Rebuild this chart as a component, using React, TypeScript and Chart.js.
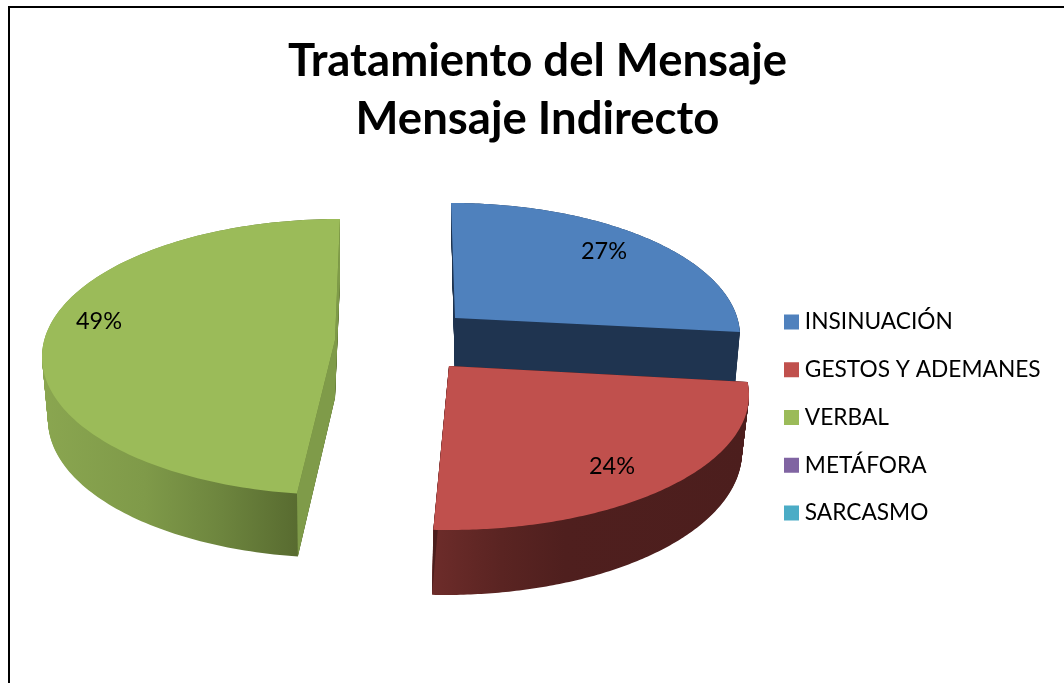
import React, { useEffect, useRef } from "react";
import { Chart, registerables } from "chart.js";

Chart.register(...registerables);

const titleLines = ["Tratamiento del Mensaje", "Mensaje Indirecto"];
const categories = ["INSINUACIÓN", "GESTOS Y ADEMANES", "VERBAL", "METÁFORA", "SARCASMO"];
const shares = [27, 24, 49, 0, 0];
const sliceColors = ["#4f81bd", "#c0504d", "#9bbb59", "#8064a2", "#4bacc6"];

const FONT = "Lato, Carlito, Calibri, sans-serif";

// Look of the tilted, exploded slices: each slice's top and bottom faces are a
// corner point plus an ellipse; the library's arc angles are projected onto them.
type Face = { cx: number; cy: number; ex: number; ey: number; a: number; b: number; s: number; e: number };
type View = { top: Face; bottom: Face; wall: [number, string][]; wallX: [number, number]; side: string; label: [number, number] };

const views: View[] = [
  {
    top: { cx: 455, cy: 318, ex: 451, ey: 336, a: 289, b: 133, s: 0, e: 88.3 },
    bottom: { cx: 455, cy: 376, ex: 452, ey: 392, a: 283, b: 133, s: 0, e: 88 },
    wall: [[0, "#1f3450"], [1, "#1f3450"]],
    wallX: [450, 740],
    side: "#1f3450",
    label: [604, 251],
  },
  {
    top: { cx: 449, cy: 366, ex: 449, ey: 395, a: 300, b: 135, s: 84.5, e: 183 },
    bottom: { cx: 447, cy: 425, ex: 445, ey: 452, a: 297, b: 143, s: 84.5, e: 182.5 },
    wall: [[0, "#6d2c2a"], [0.22, "#5a2422"], [0.42, "#4f1f1e"], [1, "#4c1e1d"]],
    wallX: [432, 748],
    side: "#4c1e1d",
    label: [612, 466],
  },
  {
    top: { cx: 335, cy: 340, ex: 340, ey: 357, a: 298, b: 138, s: 188.3, e: 360 },
    bottom: { cx: 335, cy: 398, ex: 340, ey: 420, a: 292, b: 138, s: 188.3, e: 360 },
    wall: [[0, "#8aa650"], [0.4, "#7f9a49"], [0.7, "#6d853e"], [1, "#586b30"]],
    wallX: [42, 298],
    side: "#7f9b49",
    label: [99, 321],
  },
];

const DEPTH_LAYERS = 70;
const RIM_STEPS = 72;
const LEGEND_LEFT = 764.5;
const LEGEND_TOP = 152;
const LEGEND_BOTTOM = 683;

const lerp = (p: number, q: number, t: number) => p + (q - p) * t;
const blend = (p: Face, q: Face, t: number): Face => ({
  cx: lerp(p.cx, q.cx, t), cy: lerp(p.cy, q.cy, t),
  ex: lerp(p.ex, q.ex, t), ey: lerp(p.ey, q.ey, t),
  a: lerp(p.a, q.a, t), b: lerp(p.b, q.b, t),
  s: lerp(p.s, q.s, t), e: lerp(p.e, q.e, t),
});

const rimPoint = (f: Face, t: number): [number, number] => {
  const phi = (lerp(f.s, f.e, t) * Math.PI) / 180;
  return [f.ex + f.a * Math.sin(phi), f.ey - f.b * Math.cos(phi)];
};

// A context whose arc goes through the slice's projection, so the library's own
// arc element draws the slice: its outer arc becomes the rim, closed at the corner.
function projected(ctx: CanvasRenderingContext2D, el: any, face: Face, fill?: any) {
  const { startAngle, endAngle, outerRadius } = el;
  const arc = (_x: number, _y: number, r: number, a0: number, a1: number) => {
    if (!(r > outerRadius / 2)) return;
    for (let i = 0; i <= RIM_STEPS; i++) {
      const ang = lerp(a0, a1, i / RIM_STEPS);
      const p = rimPoint(face, Math.min(1, Math.max(0, (ang - startAngle) / (endAngle - startAngle))));
      ctx.lineTo(p[0], p[1]);
    }
    ctx.lineTo(face.cx, face.cy);
  };
  const skip = () => {};
  return new Proxy(ctx as any, {
    get(t, k) {
      if (k === "arc") return arc;
      if (k === "lineTo" || k === "moveTo") return skip;
      const v = t[k];
      return typeof v === "function" ? v.bind(t) : v;
    },
    set(t, k, v) {
      t[k] = k === "fillStyle" && fill ? fill : v;
      return true;
    },
  });
}

const pie3d = {
  id: "pie3d",
  beforeDraw(chart: any) {
    const { ctx, width } = chart;
    ctx.save();
    ctx.strokeStyle = "#000000";
    ctx.lineWidth = 2;
    ctx.beginPath();
    ctx.moveTo(9, chart.height);
    ctx.lineTo(9, 7);
    ctx.lineTo(width, 7);
    ctx.stroke();
    ctx.restore();
  },
  beforeDatasetDraw(chart: any) {
    const ctx: CanvasRenderingContext2D = chart.ctx;
    const arcs = chart.getDatasetMeta(0).data;
    views.forEach((view, i) => {
      const el = arcs[i];
      const grad = ctx.createLinearGradient(view.wallX[0], 0, view.wallX[1], 0);
      view.wall.forEach(([o, c]) => grad.addColorStop(o, c));
      for (let d = 0; d <= DEPTH_LAYERS; d++) {
        el.draw(projected(ctx, el, blend(view.bottom, view.top, d / DEPTH_LAYERS), grad));
      }
      [0, 1].forEach((t) => {
        const a = rimPoint(view.top, t);
        const b = rimPoint(view.bottom, t);
        ctx.fillStyle = view.side;
        ctx.beginPath();
        ctx.moveTo(view.top.cx, view.top.cy);
        ctx.lineTo(a[0], a[1]);
        ctx.lineTo(b[0], b[1]);
        ctx.lineTo(view.bottom.cx, view.bottom.cy);
        ctx.closePath();
        ctx.fill();
      });
      el.draw(projected(ctx, el, view.top));
    });
    ctx.save();
    ctx.fillStyle = "#000000";
    ctx.font = `23.5px ${FONT}`;
    ctx.textAlign = "center";
    ctx.textBaseline = "middle";
    views.forEach((view, i) => ctx.fillText(`${shares[i]}%`, view.label[0], view.label[1]));
    ctx.restore();
    return false;
  },
  afterLayout(chart: any) {
    chart.legend.left = LEGEND_LEFT;
    chart.legend.top = LEGEND_TOP;
    chart.legend.bottom = LEGEND_BOTTOM;
  },
};

export default function App() {
  const ref = useRef<HTMLCanvasElement>(null);
  useEffect(() => {
    const chart = new Chart(ref.current!, {
      type: "pie",
      data: {
        labels: categories,
        datasets: [{ data: shares, backgroundColor: sliceColors, borderWidth: 0 }],
      },
      options: {
        animation: false,
        responsive: false,
        layout: { padding: { left: 11, top: 32 } },
        plugins: {
          title: {
            display: true,
            text: titleLines,
            color: "#000000",
            font: { family: FONT, size: 45.5, weight: "bold", lineHeight: 1.275 },
            padding: { top: 0, bottom: 10 },
          },
          tooltip: { enabled: false },
          legend: {
            position: "right",
            labels: {
              padding: 25,
              boxWidth: 4,
              boxHeight: 4,
              color: "#000000",
              font: { family: FONT, size: 22.7 },
              generateLabels: () =>
                categories.map((text, i) => ({
                  text,
                  index: i,
                  hidden: false,
                  fillStyle: sliceColors[i],
                  strokeStyle: sliceColors[i],
                  lineWidth: 11,
                  lineJoin: "miter",
                  fontColor: "#000000",
                })),
            },
          },
        },
      } as any,
      plugins: [pie3d],
    });
    return () => chart.destroy();
  }, []);
  return (
    <canvas
      ref={ref}
      width={1064}
      height={683}
      style={{ position: "fixed", left: 0, top: 0, width: 1064, height: 683, display: "block" }}
    />
  );
}
